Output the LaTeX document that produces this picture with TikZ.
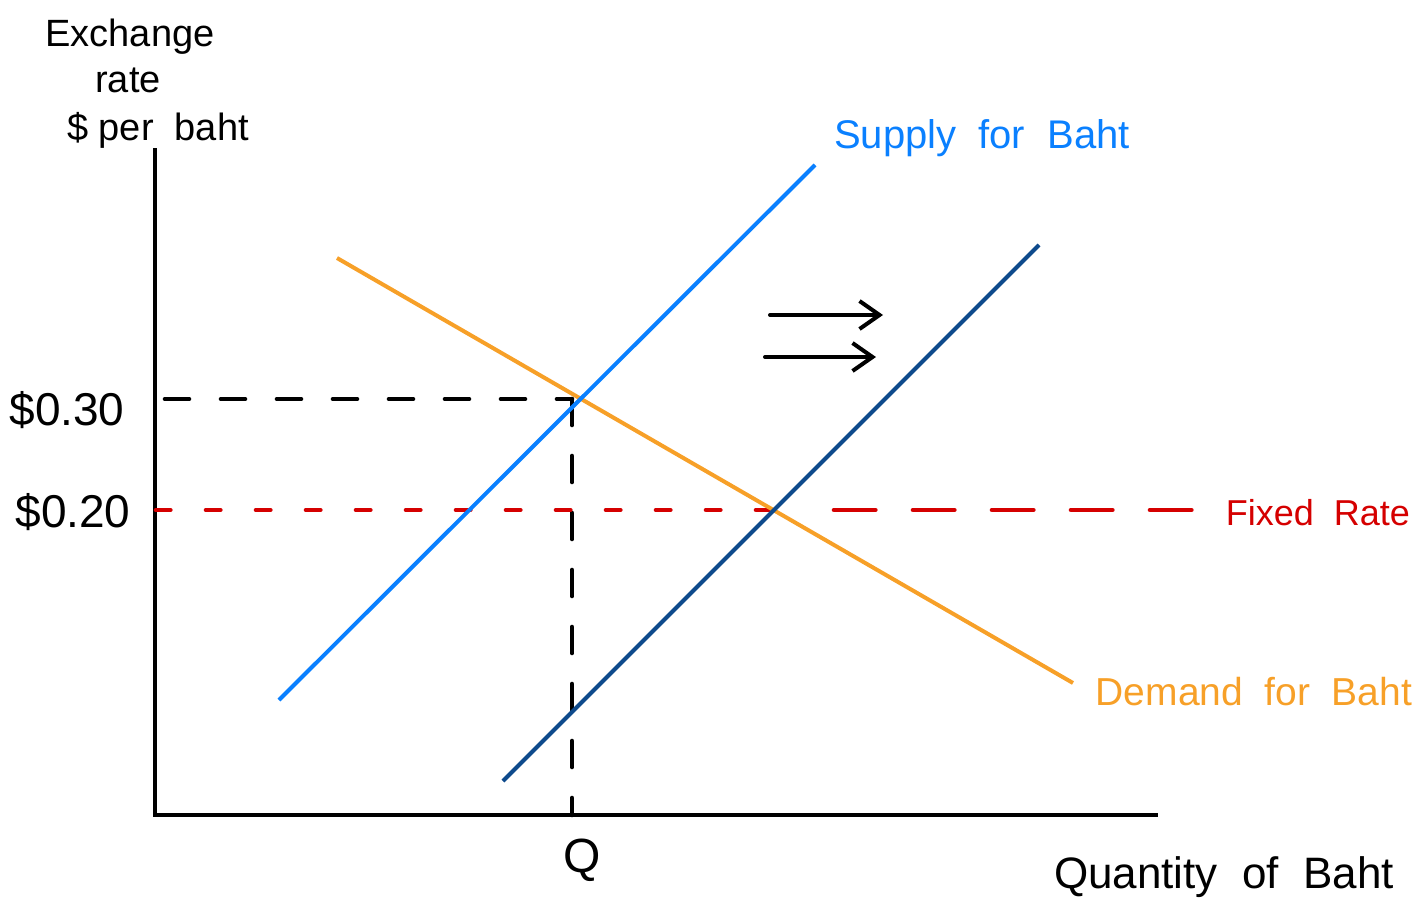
\documentclass[tikz,border=0pt]{standalone}
\usepackage{fontspec}
\setmainfont{Liberation Sans}
\usetikzlibrary{arrows.meta}
\definecolor{lblue}{RGB}{10,128,255}
\definecolor{dblue}{RGB}{14,74,140}
\definecolor{dorange}{RGB}{247,160,40}
\definecolor{fred}{RGB}{213,0,0}
\tikzset{
  axis/.style={line width=2.2pt,line cap=butt},
  curve/.style={line width=2pt},
  guide/.style={line width=2.3pt,line cap=round},
  lbl/.style={inner sep=0pt,anchor=center},
  shiftarrow/.style={line width=2pt,line cap=round,-{Straight Barb[length=10pt,width=14pt,line width=2pt]}}
}
\begin{document}
\begin{tikzpicture}[x=0.5pt,y=-0.5pt]
\useasboundingbox (0,0) rectangle (1426,905);
% axes
\coordinate (ytop) at (155,148);
\coordinate (origin) at (155,815);
\coordinate (xend) at (1158,815);
\draw[axis] (ytop) -- (origin) -- (xend);
% coordinates
\coordinate (s1a) at (279,700); \coordinate (s1b) at (815,165);
\coordinate (s2a) at (503,781); \coordinate (s2b) at (1039,245);
\coordinate (da) at (337,258); \coordinate (db) at (1073,683);
\coordinate (h30a) at (165,399); \coordinate (h30b) at (572,399);
\coordinate (qb) at (572,815);
\coordinate (f1) at (156,510); \coordinate (f2) at (793,510);
\coordinate (f3) at (834,510); \coordinate (f4) at (1193,510);
% black dashed guides
\draw[guide,dash pattern=on 12 off 16] (h30a) -- (h30b);
\draw[guide,dash pattern=on 13 off 15.5] (h30b) -- (qb);
% red fixed rate
\draw[fred,guide,dash pattern=on 7.2 off 17.8] (f1) -- (f2);
\draw[fred,guide,dash pattern=on 20.7 off 18.8] (f3) -- (f4);
% curves
\draw[curve,dorange] (da) -- (db);
\draw[curve,lblue] (s1a) -- (s1b);
\draw[curve,dblue] (s2a) -- (s2b);
% arrows
\coordinate (a1s) at (770,315); \coordinate (a1e) at (883,315);
\coordinate (a2s) at (765,357); \coordinate (a2e) at (876,357);
\draw[shiftarrow] (a1s) -- (a1e);
\draw[shiftarrow] (a2s) -- (a2e);
% labels
\node[lbl,font=\fontsize{19}{19}\selectfont] (ex) at (130,37) {Exchange};
\node[lbl,font=\fontsize{19}{19}\selectfont] (rt) at (128,80) {rate};
\node[lbl,font=\fontsize{19}{19}\selectfont] (pb) at (158,130) {\$ per\ \ baht};
\node[lbl,font=\fontsize{23}{23}\selectfont] (p30) at (67,410) {\$0.30};
\node[lbl,font=\fontsize{23}{23}\selectfont] (p20) at (73,512) {\$0.20};
\node[lbl,font=\fontsize{24}{24}\selectfont] (q) at (582,860) {Q};
\node[lbl,font=\fontsize{22}{22}\selectfont] (qty) at (1224,877) {Quantity\ \ of\ \ Baht};
\node[lbl,font=\fontsize{20}{20}\selectfont,text=lblue] (sl) at (982,138) {Supply\ \ for\ \ Baht};
\node[lbl,font=\fontsize{19.5}{19.5}\selectfont,text=dorange] (dl) at (1254,692) {Demand\ \ for\ \ Baht};
\node[lbl,font=\fontsize{18}{18}\selectfont,text=fred] (fr) at (1318,513) {Fixed\ \ Rate};
\end{tikzpicture}
\end{document}
